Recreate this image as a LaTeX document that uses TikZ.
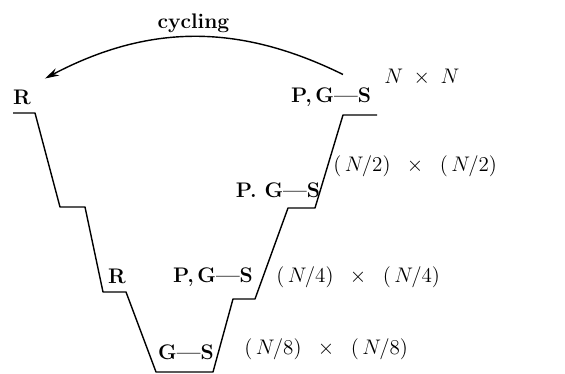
\documentclass[tikz,border=0pt]{standalone}
\usepackage{tikz}
\usetikzlibrary{arrows.meta}

\begin{document}
\begin{tikzpicture}[
  x=0.02cm, y=-0.02cm,
  grid/.style={
    font=\fontsize{12}{14}\selectfont\bfseries,
    inner sep=1pt
  },
  size/.style={
    font=\fontsize{13}{15}\selectfont,
    inner sep=0pt, anchor=west
  },
  vcycle/.style={line width=0.8pt, line join=round},
  arrow/.style={-{Stealth[length=8pt, width=4.5pt]}, line width=0.8pt}
]
\useasboundingbox (0,0) rectangle (565,374);

% ---- Profil en escalier ----
\draw[vcycle] (13,113) -- (35,113) -- (60,207) -- (85,207)
  -- (103,292) -- (126,292) -- (156,372) -- (213,372)
  -- (233,299) -- (255,299) -- (288,208) -- (315,208)
  -- (343,115) -- (377,115);

% ---- Niveau N x N ----
\node[grid] (r0) at (22,97) {R};
\node[grid] (pgs0) at (331,97) {P,\,G---S};
\node[size] (n0) at (384,77) {$N\;\times\;N$};

% ---- Niveau N/2 ----
\node[grid] (pgs1) at (278,190) {P.\ G---S};
\node[size] (n1) at (333,166) {$(\,N/2)\;\;\times\;\;(\,N/2)$};

% ---- Niveau N/4 ----
\node[grid] (r2) at (117,276) {R};
\node[grid] (pgs2) at (213,277) {P,\,G---S};
\node[size] (n2) at (276,277) {$(\,N/4)\;\;\times\;\;(\,N/4)$};

% ---- Niveau N/8 ----
\node[grid] (gs3) at (186,352) {G---S};
\node[size] (n3) at (244,349) {$(\,N/8)\;\;\times\;\;(\,N/8)$};

% Retour au niveau fin
\draw[arrow] ([shift={(12,-11)}]pgs0.north) to[bend right=27]
  node[midway, above=1pt, grid] (cyc) {cycling}
  ([shift={(12,-9)}]r0.north east);

\end{tikzpicture}
\end{document}
